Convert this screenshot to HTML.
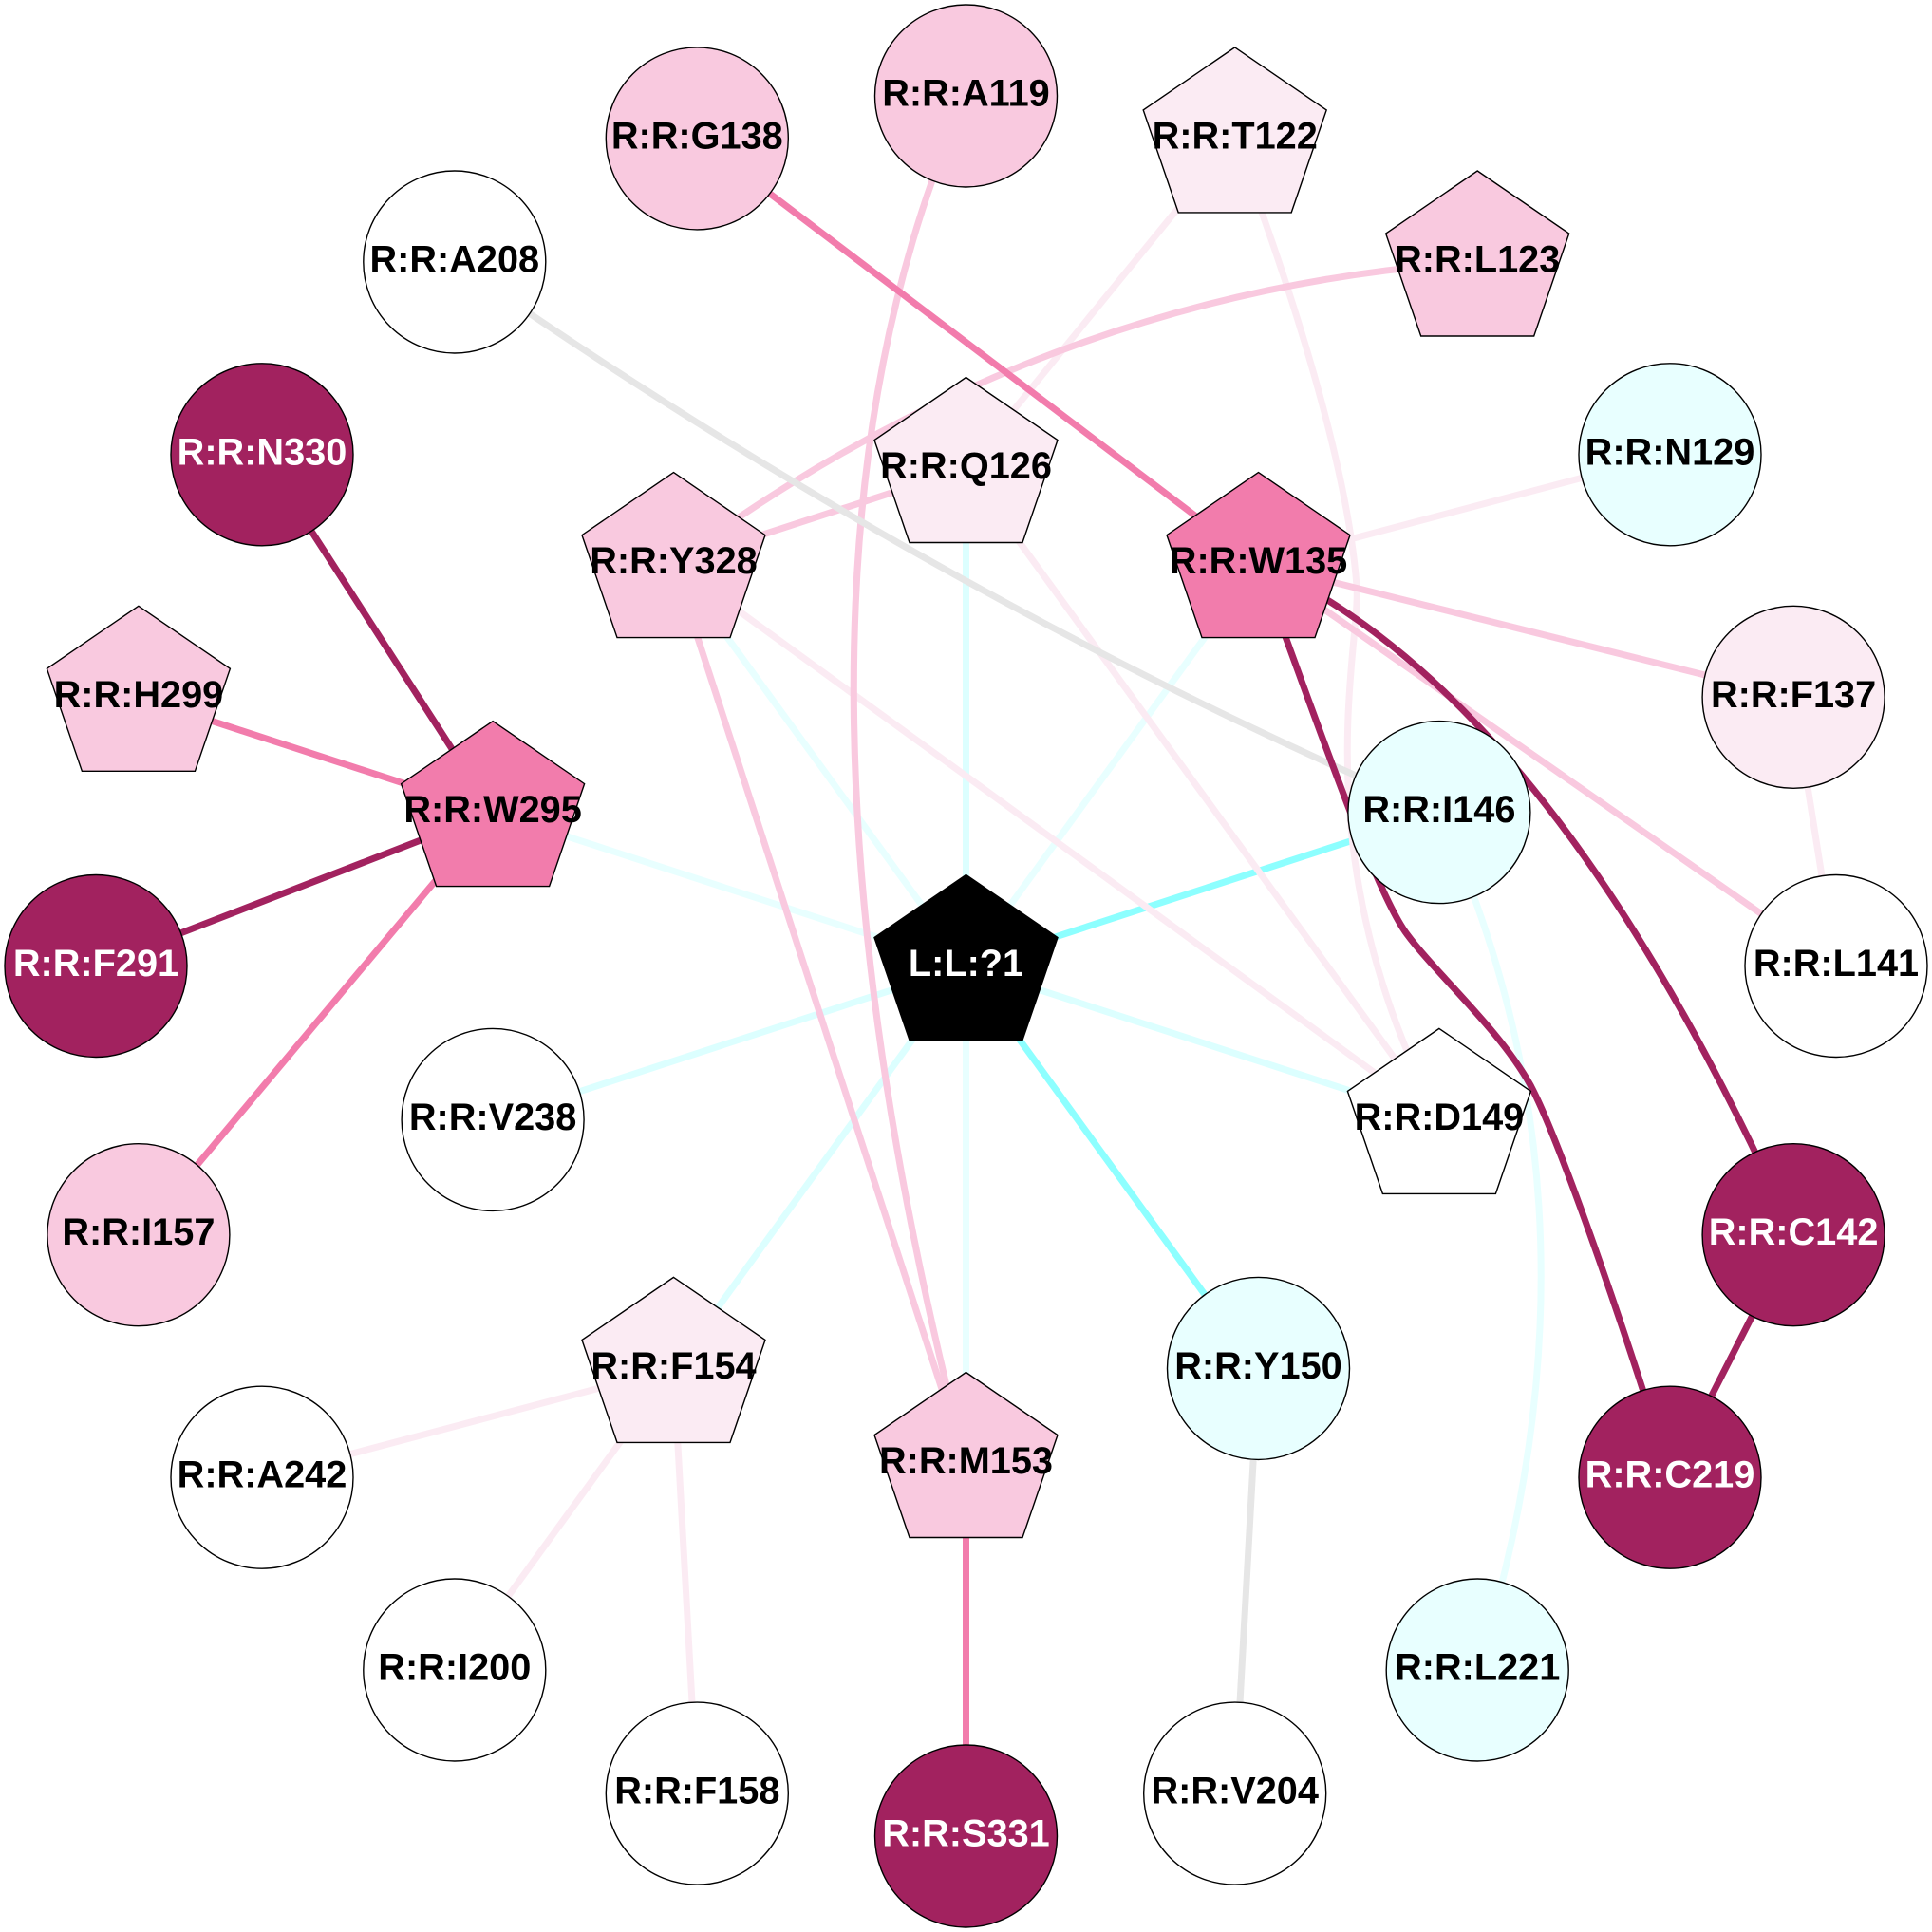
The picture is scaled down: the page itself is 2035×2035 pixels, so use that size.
<!DOCTYPE html>
<html><head><meta charset="utf-8"><style>
html,body{margin:0;padding:0;background:#fff}
svg{display:block}
text{font-family:"Liberation Sans",Arial,sans-serif;font-weight:bold;font-size:39.7px;text-anchor:middle}
.n{stroke:#000;stroke-width:1.4}
</style></head><body>
<svg width="2035" height="2035" viewBox="0 0 2035 2035" xmlns="http://www.w3.org/2000/svg">
<rect width="2035" height="2035" fill="#fff"/>
<!-- cyan edges -->
<g stroke="#e8ffff" fill="none" stroke-width="7">
<line x1="519.1" y1="855.6" x2="1017.5" y2="1017.5"/>
<line x1="1017.5" y1="1541.5" x2="1017.5" y2="1017.5"/>
<line x1="1325.5" y1="593.6" x2="1017.5" y2="1017.5"/>
<line x1="709.5" y1="593.6" x2="1017.5" y2="1017.5"/>
<path d="M1515.9 855.6Q1708 1275 1556.2 1759"/>
</g>
<g stroke="#dcffff" fill="none" stroke-width="7">
<line x1="519.1" y1="1179.4" x2="1017.5" y2="1017.5"/>
<line x1="709.5" y1="1441.4" x2="1017.5" y2="1017.5"/>
<line x1="1515.9" y1="1179.4" x2="1017.5" y2="1017.5"/>
<line x1="1017.5" y1="493.5" x2="1017.5" y2="1017.5"/>
</g>
<g stroke="#8dffff" fill="none" stroke-width="7">
<line x1="1325.5" y1="1441.4" x2="1017.5" y2="1017.5"/>
<line x1="1515.9" y1="855.6" x2="1017.5" y2="1017.5"/>
</g>
<!-- pale edges -->
<g stroke="#fbebf3" fill="none" stroke-width="7">
<line x1="1300.7" y1="145.9" x2="1017.5" y2="493.5"/>
<line x1="1017.5" y1="493.5" x2="1515.9" y2="1179.4"/>
<line x1="709.5" y1="593.6" x2="1515.9" y2="1179.4"/>
<path d="M1300.7 145.9C1370 330 1420 500 1429 617C1434 680 1370 900 1515.9 1179.4"/>
<line x1="1325.5" y1="593.6" x2="1759" y2="478.8"/>
<line x1="1889.1" y1="734.3" x2="1934" y2="1017.5"/>
<line x1="709.5" y1="1441.4" x2="276" y2="1556.2"/>
<line x1="709.5" y1="1441.4" x2="478.8" y2="1759"/>
<line x1="709.5" y1="1441.4" x2="734.3" y2="1889.1"/>
</g>
<!-- light pink edges -->
<g stroke="#f9c9df" fill="none" stroke-width="7">
<path d="M1017.5 101C848 480 872 980 1017.5 1541.5"/>
<path d="M1556.2 276Q1098 305 709.5 593.6"/>
<line x1="709.5" y1="593.6" x2="1017.5" y2="493.5"/>
<line x1="709.5" y1="593.6" x2="1017.5" y2="1541.5"/>
<line x1="1325.5" y1="593.6" x2="1889.1" y2="734.3"/>
<line x1="1325.5" y1="593.6" x2="1934" y2="1017.5"/>
</g>
<!-- gray edges -->
<g stroke="#e6e6e6" fill="none" stroke-width="7">
<path d="M478.8 276Q982 627 1515.9 855.6"/>
<line x1="1325.5" y1="1441.4" x2="1300.7" y2="1889.1"/>
</g>
<!-- pink edges -->
<g stroke="#f27cac" fill="none" stroke-width="7">
<line x1="734.3" y1="145.9" x2="1325.5" y2="593.6"/>
<line x1="145.9" y1="734.3" x2="519.1" y2="855.6"/>
<line x1="145.9" y1="1300.7" x2="519.1" y2="855.6"/>
<line x1="1017.5" y1="1541.5" x2="1017.5" y2="1934"/>
</g>
<!-- dark edges -->
<g stroke="#a2225f" fill="none" stroke-width="7">
<line x1="276" y1="478.8" x2="519.1" y2="855.6"/>
<line x1="101" y1="1017.5" x2="519.1" y2="855.6"/>
<path d="M1325.5 593.6Q1634 729 1889.1 1300.7"/>
<path d="M1325.5 593.6C1370 710 1445 935 1482 984C1513 1026 1580 1085 1612 1143C1645 1205 1725 1440 1759 1556.2"/>
<line x1="1889.1" y1="1300.7" x2="1759" y2="1556.2"/>
</g>
<!-- circles -->
<g class="n">
<circle cx="1017.5" cy="101" r="96" fill="#f9c9df"/>
<circle cx="734.3" cy="145.9" r="96" fill="#f9c9df"/>
<circle cx="478.8" cy="276" r="96" fill="#fff"/>
<circle cx="1759" cy="478.8" r="96" fill="#e8ffff"/>
<circle cx="276" cy="478.8" r="96" fill="#a2225f"/>
<circle cx="1889.1" cy="734.3" r="96" fill="#fbebf3"/>
<circle cx="1934" cy="1017.5" r="96" fill="#fff"/>
<circle cx="101" cy="1017.5" r="96" fill="#a2225f"/>
<circle cx="1889.1" cy="1300.7" r="96" fill="#a2225f"/>
<circle cx="145.9" cy="1300.7" r="96" fill="#f9c9df"/>
<circle cx="1759" cy="1556.2" r="96" fill="#a2225f"/>
<circle cx="276" cy="1556.2" r="96" fill="#fff"/>
<circle cx="1556.2" cy="1759" r="96" fill="#e8ffff"/>
<circle cx="478.8" cy="1759" r="96" fill="#fff"/>
<circle cx="1300.7" cy="1889.1" r="96" fill="#fff"/>
<circle cx="734.3" cy="1889.1" r="96" fill="#fff"/>
<circle cx="1017.5" cy="1934" r="96" fill="#a2225f"/>
<circle cx="1515.9" cy="855.6" r="96" fill="#e8ffff"/>
<circle cx="519.1" cy="1179.4" r="96" fill="#fff"/>
<circle cx="1325.5" cy="1441.4" r="96" fill="#e8ffff"/>
</g>
<!-- pentagons -->
<g class="n">
<polygon transform="translate(1300.7 145.9)" points="0,-96 96.5,-30 59.5,78 -59.5,78 -96.5,-30" fill="#fbebf3"/>
<polygon transform="translate(1556.2 276)" points="0,-96 96.5,-30 59.5,78 -59.5,78 -96.5,-30" fill="#f9c9df"/>
<polygon transform="translate(145.9 734.3)" points="0,-96 96.5,-30 59.5,78 -59.5,78 -96.5,-30" fill="#f9c9df"/>
<polygon transform="translate(1017.5 493.5)" points="0,-96 96.5,-30 59.5,78 -59.5,78 -96.5,-30" fill="#fbebf3"/>
<polygon transform="translate(1325.5 593.6)" points="0,-96 96.5,-30 59.5,78 -59.5,78 -96.5,-30" fill="#f27cac"/>
<polygon transform="translate(709.5 593.6)" points="0,-96 96.5,-30 59.5,78 -59.5,78 -96.5,-30" fill="#f9c9df"/>
<polygon transform="translate(519.1 855.6)" points="0,-96 96.5,-30 59.5,78 -59.5,78 -96.5,-30" fill="#f27cac"/>
<polygon transform="translate(1515.9 1179.4)" points="0,-96 96.5,-30 59.5,78 -59.5,78 -96.5,-30" fill="#fff"/>
<polygon transform="translate(709.5 1441.4)" points="0,-96 96.5,-30 59.5,78 -59.5,78 -96.5,-30" fill="#fbebf3"/>
<polygon transform="translate(1017.5 1541.5)" points="0,-96 96.5,-30 59.5,78 -59.5,78 -96.5,-30" fill="#f9c9df"/>
<polygon transform="translate(1017.5 1017.5)" points="0,-96 96.5,-30 59.5,78 -59.5,78 -96.5,-30" fill="#000"/>
</g>
<!-- labels -->
<g fill="#000">
<text x="1017.5" y="111.5">R:R:A119</text>
<text x="734.3" y="156.4">R:R:G138</text>
<text x="1300.7" y="156.4">R:R:T122</text>
<text x="478.8" y="286.5">R:R:A208</text>
<text x="1556.2" y="286.5">R:R:L123</text>
<text x="1759" y="489.3">R:R:N129</text>
<text x="145.9" y="744.8">R:R:H299</text>
<text x="1889.1" y="744.8">R:R:F137</text>
<text x="1934" y="1028">R:R:L141</text>
<text x="145.9" y="1311.2">R:R:I157</text>
<text x="276" y="1566.7">R:R:A242</text>
<text x="1556.2" y="1769.5">R:R:L221</text>
<text x="478.8" y="1769.5">R:R:I200</text>
<text x="1300.7" y="1899.6">R:R:V204</text>
<text x="734.3" y="1899.6">R:R:F158</text>
<text x="1017.5" y="504">R:R:Q126</text>
<text x="1325.5" y="604.1">R:R:W135</text>
<text x="709.5" y="604.1">R:R:Y328</text>
<text x="1515.9" y="866.1">R:R:I146</text>
<text x="519.1" y="866.1">R:R:W295</text>
<text x="1515.9" y="1189.9">R:R:D149</text>
<text x="519.1" y="1189.9">R:R:V238</text>
<text x="1325.5" y="1451.9">R:R:Y150</text>
<text x="709.5" y="1451.9">R:R:F154</text>
<text x="1017.5" y="1552">R:R:M153</text>
</g>
<g fill="#fff">
<text x="276" y="489.3">R:R:N330</text>
<text x="101" y="1028">R:R:F291</text>
<text x="1889.1" y="1311.2">R:R:C142</text>
<text x="1759" y="1566.7">R:R:C219</text>
<text x="1017.5" y="1944.5">R:R:S331</text>
<text x="1017.5" y="1028">L:L:?1</text>
</g>
</svg>
</body></html>
